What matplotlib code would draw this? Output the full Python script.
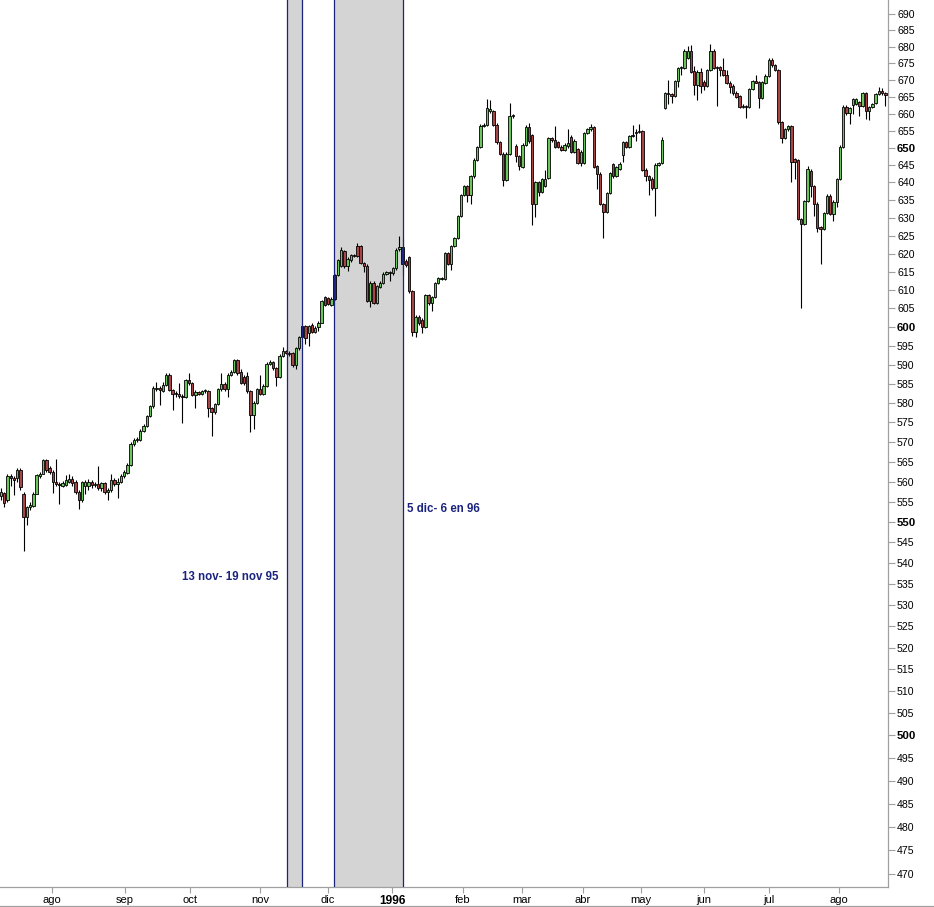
# -*- coding: utf-8 -*-
"""
Daily candlestick chart, jul 1995 - ago 1996, log price scale on the right,
with the two highlighted windows (13-19 nov 95 and 5 dic - 6 en 96).
"""

import matplotlib
matplotlib.use("Agg")
import matplotlib.pyplot as plt
from matplotlib.ticker import FixedLocator, FixedFormatter, NullLocator
from matplotlib.lines import Line2D

# ================================ data ===================================== #

opens = [
    556.3, 557.1, 555.5, 561.3, 561.0, 560.8, 563.0, 557.0, 551.3, 553.8,
    554.0, 557.0, 561.5, 562.0, 565.4, 563.4, 562.4, 560.0, 559.3, 559.0,
    559.2, 560.0, 560.6, 560.0, 557.5, 555.5, 559.0, 559.0, 560.0, 559.2,
    559.4, 558.3, 559.6, 557.5, 557.8, 560.4, 559.4, 560.0, 561.3, 562.1,
    564.2, 569.5, 570.5, 570.5, 572.9, 574.1, 576.7, 579.1, 583.6, 584.0,
    583.2, 584.8, 587.4, 583.3, 582.4, 582.2, 581.8, 581.5, 585.9, 585.2,
    582.1, 582.8, 582.4, 583.0, 583.0, 578.7, 577.6, 579.7, 583.5, 585.0,
    583.6, 587.4, 588.1, 591.2, 588.0, 586.8, 587.0, 583.0, 577.0, 580.0,
    583.5, 582.3, 584.5, 590.2, 590.6, 589.0, 586.7, 592.4, 593.5, 593.2,
    593.0, 589.9, 594.4, 597.3, 600.2, 598.3, 600.5, 598.7, 600.0, 601.2,
    608.1, 607.8, 606.0, 607.6, 614.1, 616.7, 620.6, 616.7, 618.1, 619.7,
    622.0, 622.0, 617.4, 616.7, 607.1, 612.0, 606.5, 610.8, 612.0, 614.4,
    614.8, 614.6, 615.9, 621.3, 621.8, 618.0, 619.0, 609.6, 598.6, 602.8,
    602.0, 600.0, 608.6, 606.4, 608.1, 611.8, 613.2, 613.0, 620.1, 617.2,
    622.0, 624.3, 630.4, 636.3, 639.0, 636.3, 641.7, 646.5, 650.2, 656.4,
    656.7, 660.6, 660.6, 656.7, 651.6, 648.3, 640.7, 648.3, 659.2, 650.6,
    647.5, 644.4, 650.9, 656.0, 653.7, 633.8, 640.0, 637.4, 639.0, 641.3,
    652.7, 652.2, 651.7, 650.3, 649.4, 650.4, 653.2, 648.9, 649.5, 645.7,
    645.7, 654.2, 655.4, 656.0, 644.6, 642.5, 633.8, 631.5, 637.0, 645.3,
    641.8, 643.9, 647.8, 651.6, 650.2, 653.3, 654.2, 654.7, 654.8, 643.6,
    641.7, 640.9, 638.3, 645.1, 645.6, 661.6, 666.0, 665.7, 665.2, 669.5,
    673.5, 673.5, 676.5, 678.8, 672.5, 668.5, 672.3, 669.4, 668.3, 672.8,
    678.8, 673.5, 673.8, 672.8, 671.4, 669.0, 668.3, 666.2, 665.2, 662.0,
    662.1, 662.0, 667.2, 669.5, 669.3, 664.6, 668.9, 671.2, 676.1, 674.3,
    672.8, 657.4, 652.9, 655.4, 656.2, 646.6, 646.3, 629.7, 628.3, 634.7,
    643.4, 638.9, 634.0, 627.4, 626.9, 631.3, 636.2, 631.1, 634.3, 641.0,
    650.3, 662.0, 660.2, 662.5, 662.8, 663.3, 662.3, 666.0, 660.7, 662.0,
    663.1, 665.7, 666.7, 666.0,
]

highs = [
    558.5, 557.5, 561.8, 562.0, 561.5, 563.3, 563.3, 557.5, 554.0, 554.8,
    557.3, 562.0, 562.5, 565.8, 565.8, 564.0, 562.8, 565.8, 559.8, 560.2,
    561.6, 561.8, 561.5, 560.4, 558.0, 560.2, 560.4, 560.6, 560.4, 560.0,
    563.8, 560.0, 560.0, 558.3, 562.0, 561.0, 561.0, 562.0, 562.8, 564.6,
    570.0, 571.0, 571.3, 573.3, 574.5, 577.0, 579.5, 584.3, 585.5, 584.5,
    585.4, 587.8, 587.8, 583.7, 583.0, 585.2, 582.2, 586.2, 587.9, 585.5,
    583.3, 583.2, 583.4, 583.7, 583.4, 579.0, 580.0, 583.9, 587.9, 585.4,
    587.8, 588.5, 591.5, 591.5, 588.8, 587.2, 588.0, 583.4, 580.4, 583.9,
    587.2, 585.0, 590.6, 591.2, 591.0, 589.4, 592.8, 594.6, 594.0, 593.7,
    593.4, 594.8, 597.7, 600.6, 600.6, 600.6, 601.0, 600.4, 601.6, 607.3,
    608.5, 608.2, 608.0, 614.5, 618.5, 621.8, 621.0, 619.0, 620.0, 620.0,
    623.0, 622.4, 617.8, 617.0, 612.4, 612.4, 611.4, 612.4, 614.8, 615.2,
    615.2, 616.3, 621.5, 625.0, 624.0, 618.5, 619.4, 610.0, 603.2, 603.2,
    602.3, 609.0, 609.0, 608.5, 612.2, 613.6, 613.6, 620.5, 620.5, 622.4,
    624.7, 630.8, 636.7, 639.4, 639.4, 642.1, 646.9, 650.6, 656.8, 657.1,
    664.2, 664.0, 661.0, 657.1, 652.0, 648.7, 648.7, 663.0, 660.0, 651.0,
    647.9, 651.3, 656.5, 657.3, 654.0, 640.4, 640.4, 641.4, 643.6, 653.1,
    653.1, 656.2, 652.0, 650.7, 651.3, 655.5, 653.6, 652.5, 650.0, 649.3,
    654.6, 655.8, 657.0, 656.4, 645.0, 642.9, 634.2, 637.4, 643.1, 645.7,
    644.8, 645.8, 652.0, 652.0, 653.7, 656.7, 655.5, 657.0, 655.2, 644.0,
    642.1, 641.5, 645.5, 646.0, 653.2, 666.4, 670.0, 666.0, 669.9, 673.9,
    674.2, 679.3, 680.2, 680.6, 674.0, 673.0, 673.5, 669.8, 673.2, 680.8,
    679.2, 674.2, 674.2, 676.7, 673.0, 669.5, 668.7, 666.6, 665.6, 662.8,
    662.5, 667.6, 670.0, 671.5, 669.7, 669.7, 671.6, 676.5, 676.5, 674.7,
    673.2, 657.8, 655.8, 656.6, 656.6, 647.0, 646.7, 630.0, 635.0, 644.8,
    643.8, 639.3, 634.4, 627.8, 631.7, 636.6, 636.6, 635.0, 641.4, 650.7,
    662.4, 662.4, 662.0, 664.6, 664.6, 663.7, 666.4, 666.4, 662.2, 663.2,
    666.1, 667.8, 667.5, 666.3,
]

lows = [
    555.5, 553.7, 555.0, 559.0, 556.7, 560.0, 558.0, 542.8, 549.3, 553.0,
    553.8, 556.8, 561.0, 561.8, 562.5, 562.0, 557.1, 558.8, 554.5, 558.6,
    558.8, 559.6, 559.0, 557.0, 553.2, 555.0, 557.0, 558.0, 558.5, 558.6,
    558.0, 557.6, 557.0, 555.5, 557.3, 559.0, 555.9, 559.6, 560.8, 561.8,
    564.0, 569.0, 570.0, 570.3, 572.5, 573.8, 576.5, 578.8, 583.0, 579.6,
    582.8, 584.5, 583.0, 578.2, 581.5, 581.3, 574.8, 581.2, 584.8, 581.8,
    578.7, 582.0, 582.0, 582.6, 576.5, 571.6, 577.2, 579.4, 583.2, 583.0,
    581.6, 587.0, 587.8, 587.4, 585.0, 584.8, 582.7, 572.5, 573.2, 579.7,
    582.0, 582.0, 584.2, 589.8, 588.6, 584.5, 586.4, 592.0, 592.7, 592.3,
    589.5, 588.9, 594.0, 597.0, 595.5, 595.0, 598.3, 598.4, 599.0, 601.0,
    605.7, 605.8, 605.7, 607.3, 613.8, 616.4, 616.0, 615.2, 617.8, 619.0,
    619.0, 617.0, 614.9, 606.8, 605.3, 606.2, 606.2, 610.5, 611.7, 614.0,
    612.5, 614.0, 615.6, 620.8, 614.0, 616.3, 609.2, 597.5, 597.4, 600.6,
    598.5, 599.7, 606.0, 604.4, 607.8, 611.5, 612.6, 612.7, 616.9, 615.6,
    621.7, 624.0, 630.1, 636.0, 634.5, 633.8, 641.4, 646.2, 649.9, 656.0,
    656.4, 660.2, 656.3, 651.2, 648.0, 639.0, 640.4, 648.0, 658.8, 646.0,
    643.6, 644.0, 650.6, 651.5, 627.9, 630.2, 636.0, 637.0, 638.7, 641.0,
    651.8, 649.9, 649.9, 649.0, 649.0, 650.0, 648.5, 648.5, 645.3, 644.7,
    645.4, 653.9, 655.0, 644.0, 638.1, 633.5, 624.3, 631.2, 636.7, 641.4,
    641.5, 643.5, 646.0, 649.8, 649.9, 653.0, 652.0, 654.3, 643.3, 640.3,
    636.5, 637.9, 630.4, 644.8, 645.3, 661.3, 662.8, 663.0, 664.9, 668.0,
    671.5, 673.2, 676.2, 672.0, 665.5, 664.0, 666.0, 667.0, 668.0, 672.5,
    673.2, 662.2, 671.0, 671.0, 668.7, 666.0, 665.6, 664.7, 661.7, 661.7,
    658.8, 661.7, 666.9, 669.0, 661.6, 664.3, 668.6, 670.9, 673.9, 672.5,
    657.0, 651.5, 652.5, 655.0, 640.0, 641.0, 629.4, 605.0, 628.0, 634.4,
    635.8, 630.4, 626.0, 617.1, 626.6, 631.0, 630.8, 629.2, 633.0, 640.7,
    650.0, 659.5, 656.8, 660.0, 662.5, 659.2, 662.0, 658.3, 658.0, 661.5,
    662.8, 665.4, 665.6, 662.2,
]

closes = [
    557.5, 554.6, 561.3, 561.0, 560.5, 563.0, 558.7, 551.3, 553.8, 554.3,
    557.0, 561.7, 562.0, 565.4, 563.0, 562.4, 560.0, 559.3, 559.1, 559.6,
    560.4, 560.6, 559.6, 557.5, 555.5, 559.8, 559.9, 560.0, 559.2, 559.4,
    558.3, 559.6, 557.5, 557.9, 560.4, 559.4, 560.0, 561.3, 562.3, 564.2,
    569.5, 570.5, 570.7, 572.9, 574.1, 576.7, 579.1, 583.9, 584.0, 583.3,
    584.8, 587.4, 583.3, 582.4, 582.3, 581.8, 581.5, 585.9, 585.2, 582.1,
    582.8, 582.4, 583.0, 583.3, 578.7, 577.6, 579.7, 583.5, 585.0, 583.6,
    587.4, 588.1, 591.2, 587.7, 585.2, 585.3, 583.0, 577.0, 580.0, 583.5,
    582.3, 584.5, 590.2, 590.7, 589.0, 586.7, 592.4, 593.5, 593.1, 592.7,
    589.9, 594.4, 597.3, 600.2, 597.0, 600.2, 598.7, 599.8, 601.2, 606.9,
    606.0, 606.1, 607.6, 614.1, 618.1, 620.9, 616.7, 618.6, 619.7, 619.4,
    619.3, 617.4, 616.5, 607.1, 612.0, 606.5, 611.0, 612.0, 614.4, 614.8,
    614.7, 615.9, 621.1, 621.8, 617.0, 616.8, 609.6, 598.6, 602.8, 601.0,
    600.0, 608.6, 606.4, 608.1, 611.8, 613.2, 613.0, 620.1, 617.2, 622.0,
    624.3, 630.4, 636.3, 639.0, 636.3, 641.7, 646.5, 650.2, 656.4, 656.7,
    661.6, 661.3, 656.7, 651.6, 648.3, 640.7, 648.3, 659.2, 659.4, 647.5,
    644.6, 650.9, 656.1, 652.0, 633.8, 640.0, 637.4, 641.0, 641.0, 652.7,
    652.2, 650.3, 650.3, 649.4, 650.9, 651.3, 648.9, 652.0, 645.7, 648.9,
    654.2, 655.4, 656.0, 644.4, 642.5, 633.8, 631.5, 637.0, 642.7, 641.8,
    644.4, 645.4, 651.6, 650.2, 653.3, 653.8, 654.7, 654.8, 643.6, 641.7,
    640.7, 638.3, 645.1, 645.6, 652.3, 666.0, 665.7, 665.2, 669.5, 673.5,
    673.8, 678.8, 678.8, 672.3, 668.5, 672.3, 668.3, 668.3, 672.8, 678.8,
    673.5, 673.8, 673.0, 671.4, 669.0, 668.0, 666.0, 665.0, 662.0, 662.1,
    661.8, 667.2, 669.5, 669.1, 664.6, 669.3, 671.2, 676.1, 674.3, 672.8,
    657.4, 652.9, 655.4, 656.2, 645.8, 645.8, 629.7, 628.3, 634.7, 643.8,
    638.9, 634.0, 627.1, 626.7, 631.3, 636.2, 631.1, 634.3, 641.0, 650.3,
    662.0, 660.2, 661.6, 664.2, 664.2, 662.3, 666.0, 660.7, 661.8, 662.8,
    665.7, 666.7, 666.0, 665.5,
]

# candles drawn in blue, at the edges of the marked windows
marked_days = [93, 103, 124]

# first trading day of each month, in candle units
month_pos = [15.65, 38.3, 58.4, 80.0, 101.0, 120.7, 142.6,
             160.9, 179.7, 197.6, 217.0, 237.1, 258.7]
month_labels = ["ago", "sep", "oct", "nov", "dic", "1996", "feb",
                "mar", "abr", "may", "jun", "jul", "ago"]

windows = [(88.2, 92.9), (102.9, 124.0)]
window_labels = ["13 nov- 19 nov 95", "5 dic- 6 en 96"]

price_ticks = list(range(470, 695, 5))
bold_prices = [500, 550, 600, 650]

# ============================== switchboard ================================ #

UP = "#6cc55a"
DOWN = "#a54545"
MARK = "#1f2a80"
NAVY = "#1a237e"
SHADE = "#d4d4d4"
GREY = "#a0a0a0"

W, H = 934, 907


def main():
    assert len(opens) == len(highs) == len(lows) == len(closes)
    n = len(closes)
    plt.rcParams["font.family"] = ["Liberation Sans", "DejaVu Sans"]

    fig = plt.figure(figsize=(W / 100, H / 100), dpi=100)
    ax = fig.add_axes([0, 20 / H, 888 / W, 887 / H])

    x = list(range(n))
    ax.vlines(x, lows, highs, color="black", lw=0.8, zorder=3)

    bottoms = [min(o, c) for o, c in zip(opens, closes)]
    heights = [max(abs(c - o), 0.25) for o, c in zip(opens, closes)]
    colors = []
    for i, (o, c) in enumerate(zip(opens, closes)):
        if i in marked_days:
            colors.append(MARK)
        elif c >= o:
            colors.append(UP)
        else:
            colors.append(DOWN)
    ax.bar(x, heights, width=0.74, bottom=bottoms, color=colors,
           edgecolor="black", linewidth=0.6, zorder=4)

    for a, b in windows:
        ax.axvspan(a, b, color=SHADE, zorder=1, lw=0)
        ax.axvline(a, color=NAVY, lw=0.9, zorder=5)
        ax.axvline(b, color=NAVY, lw=0.9, zorder=5)

    ax.text(85.8, 536.6, window_labels[0], ha="right", va="center",
            color=NAVY, fontsize=8.3, fontweight="bold")
    ax.text(125.3, 553.2, window_labels[1], ha="left", va="center",
            color=NAVY, fontsize=8.3, fontweight="bold")

    ax.set_yscale("log")
    ax.set_ylim(467.3, 694.3)
    ax.set_xlim(-0.31, n - 1 + 0.83)

    ax.yaxis.set_major_locator(FixedLocator(price_ticks))
    ax.yaxis.set_major_formatter(FixedFormatter([str(p) for p in price_ticks]))
    ax.yaxis.set_minor_locator(NullLocator())
    ax.yaxis.tick_right()

    ax.set_xticks(month_pos)
    ax.set_xticklabels(month_labels)

    ax.tick_params(axis="y", direction="out", length=5, width=0.8, color=GREY,
                   pad=1.5, labelsize=7.6)
    ax.tick_params(axis="x", direction="out", length=4, width=0.8, color=GREY,
                   pad=2, labelsize=8)

    for lab in ax.get_yticklabels():
        if int(lab.get_text()) in bold_prices:
            lab.set_fontweight("bold")
            lab.set_fontsize(8.2)
    for lab in ax.get_xticklabels():
        if lab.get_text() == "1996":
            lab.set_fontweight("bold")
            lab.set_fontsize(8.6)

    for side in ("top", "left"):
        ax.spines[side].set_visible(False)
    for side in ("right", "bottom"):
        ax.spines[side].set_color(GREY)
        ax.spines[side].set_linewidth(0.9)

    fig.add_artist(Line2D([0, 1], [1.5 / H, 1.5 / H], color=GREY, lw=0.9))

    fig.savefig("out.png", dpi=100)


if __name__ == "__main__":
    main()
